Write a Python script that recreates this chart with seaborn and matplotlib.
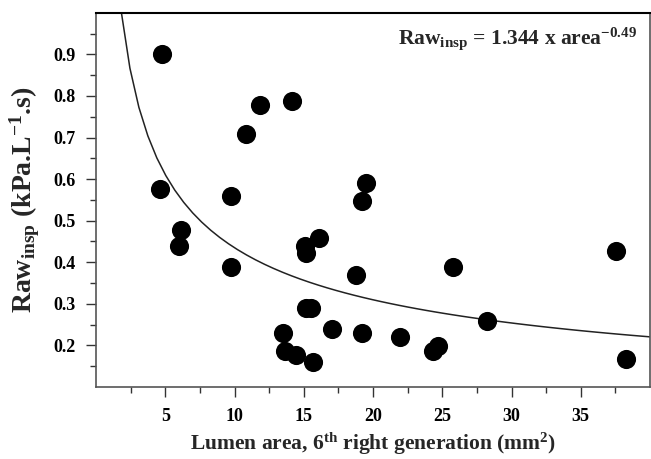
import numpy as np
import pandas as pd
import seaborn as sns
import matplotlib.pyplot as plt
from matplotlib.ticker import FixedLocator

# lumen area (mm2) and Raw_insp (kPa.L-1.s)
area = [4.78, 11.82, 14.16, 10.84, 4.61, 9.74, 6.16, 5.99, 9.74, 15.11,
        15.16, 16.12, 15.16, 15.52, 13.49, 13.61, 14.47, 15.69, 19.46, 19.17,
        18.74, 25.79, 17.07, 19.17, 21.92, 24.36, 24.71, 28.25, 37.54, 38.25]
raw_insp = [0.900, 0.778, 0.787, 0.708, 0.577, 0.559, 0.478, 0.439, 0.389, 0.439,
            0.423, 0.459, 0.289, 0.289, 0.229, 0.187, 0.177, 0.159, 0.590, 0.547,
            0.369, 0.389, 0.239, 0.229, 0.219, 0.187, 0.198, 0.259, 0.426, 0.167]

# power fit printed on the chart
fit_a = 1.344
fit_b = -0.49

x_ticks = [5, 10, 15, 20, 25, 30, 35]
y_ticks = [0.2, 0.3, 0.4, 0.5, 0.6, 0.7, 0.8, 0.9]

df = pd.DataFrame({"area": area, "raw": raw_insp})
fit_x = np.linspace(1.8, 40, 60)
fit_df = pd.DataFrame({"area": fit_x, "raw": fit_a * fit_x ** fit_b})

sns.set_style("ticks")
plt.rcParams["font.family"] = ["Liberation Serif", "DejaVu Serif"]
plt.rcParams["font.weight"] = "bold"
plt.rcParams["mathtext.fontset"] = "custom"
plt.rcParams["mathtext.rm"] = "Liberation Serif:bold"
plt.rcParams["mathtext.bf"] = "Liberation Serif:bold"
plt.rcParams["mathtext.it"] = "Liberation Serif:bold"

fig = plt.figure(figsize=(6.51, 4.59), dpi=100)
ax = fig.add_axes([0.1475, 0.157, 0.851, 0.815])

sns.lineplot(data=fit_df, x="area", y="raw", ax=ax, color="#222222", linewidth=1.1)
sns.scatterplot(data=df, x="area", y="raw", ax=ax, color="black", s=190,
                edgecolor="black", linewidth=0, zorder=3)

ax.set_xlim(0, 40)
ax.set_ylim(0.1, 1.0)
ax.set_xticks(x_ticks)
ax.set_yticks(y_ticks)
ax.xaxis.set_minor_locator(FixedLocator([2.5 + 5 * i for i in range(8)]))
ax.yaxis.set_minor_locator(FixedLocator([0.15 + 0.1 * i for i in range(9)]))
ax.set_xticklabels([str(t) for t in x_ticks])
ax.set_yticklabels([f"{t:.1f}" for t in y_ticks])
ax.tick_params(which="major", direction="out", length=7, width=1, colors="#333333",
               labelsize=13, labelcolor="black", pad=8)
ax.tick_params(which="minor", direction="out", length=4, width=1, colors="#333333")

for side in ["left", "bottom", "right"]:
    ax.spines[side].set_color("#555555")
    ax.spines[side].set_linewidth(1.2)
ax.spines["top"].set_color("black")
ax.spines["top"].set_linewidth(1.5)

ax.set_xlabel(r"Lumen area, 6$^{\mathbf{th}}$ right generation (mm$^{\mathbf{2}}$)",
              fontsize=15.5, fontweight="bold", labelpad=4)
ax.set_ylabel(r"Raw$_{\mathbf{insp}}$ (kPa.L$^{\mathbf{-1}}$.s)",
              fontsize=20, fontweight="bold", labelpad=8)

ax.text(0.976, 0.93, r"Raw$_{\mathbf{insp}}$ = 1.344 x area$^{\mathbf{-0.49}}$",
        transform=ax.transAxes, ha="right", va="center", fontsize=15.5,
        fontweight="bold")

fig.savefig("out.png", dpi=100)
